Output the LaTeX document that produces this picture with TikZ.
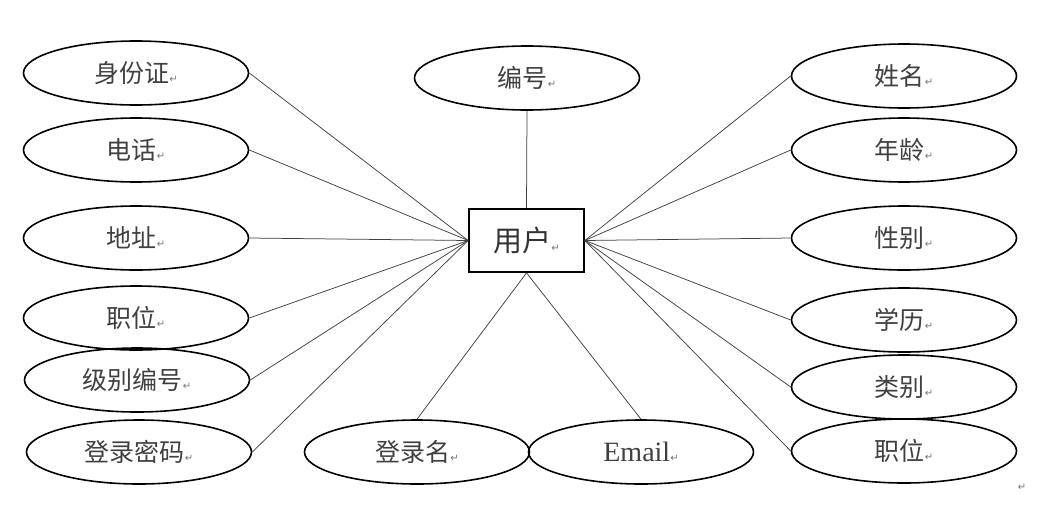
\documentclass[tikz,border=0pt]{standalone}
\usepackage{fontspec}
\setmainfont{Liberation Serif}
\newfontfamily\cjk{Noto Sans CJK SC}
\newfontfamily\symf{DejaVu Sans}
\usetikzlibrary{shapes.geometric}
\newcommand{\retmk}{\textcolor{black!55}{\symf\fontsize{10}{11}\selectfont ↵}}
\newcommand{\lbl}[1]{\raisebox{-3pt}{#1\retmk}}
\tikzset{
  attr/.style={ellipse, draw=black, line width=1.6pt, minimum width=225pt, minimum height=64pt, inner sep=0pt,
    font=\cjk\fontsize{25}{30}\selectfont, text=black!75},
  ent/.style={rectangle, draw=black, line width=1.7pt, minimum width=115pt, minimum height=63pt, inner sep=0pt,
    font=\cjk\fontsize{29}{34}\selectfont, text=black!80},
  conn/.style={draw=black!75, line width=0.75pt}
}
\begin{document}
\begin{tikzpicture}[x=1pt,y=-1pt]
\useasboundingbox (0,0) rectangle (1040,504);
\node[ent] (u) at (526.5,240.5) {\lbl{用户}};
% left
\node[attr] (sfz) at (136,73) {\lbl{身份证}};
\node[attr] (dh) at (136,150) {\lbl{电话}};
\node[attr] (dz) at (136,238) {\lbl{地址}};
\node[attr] (zwl) at (136,318) {\lbl{职位}};
\node[attr] (jb) at (137,380) {\lbl{级别编号}};
\node[attr] (mm) at (139,452) {\lbl{登录密码}};
% right
\node[attr] (xm) at (904,76) {\lbl{姓名}};
\node[attr] (nl) at (904,150) {\lbl{年龄}};
\node[attr] (xb) at (904,238) {\lbl{性别}};
\node[attr] (xl) at (904,320) {\lbl{学历}};
\node[attr] (lb) at (904,387) {\lbl{类别}};
\node[attr] (zwr) at (904,451) {\lbl{职位}};
% top / bottom
\node[attr] (bh) at (527,78) {\lbl{编号}};
\node[attr] (dlm) at (417,452) {\lbl{登录名}};
\node[attr, font=\fontsize{28}{32}\selectfont] (em) at (641,452) {\lbl{Email}};
\node (endmk) at (1022,487) {\retmk};
% connectors
\foreach \n in {sfz,dh,dz,zwl,jb,mm} \draw[conn] (\n.east) -- (u.west);
\foreach \n in {xm,nl,xb,xl,lb,zwr} \draw[conn] (\n.west) -- (u.east);
\draw[conn] (bh.south) -- (u.north);
\draw[conn] (dlm.north) -- (u.south);
\draw[conn] (em.north) -- (u.south);
\end{tikzpicture}
\end{document}
